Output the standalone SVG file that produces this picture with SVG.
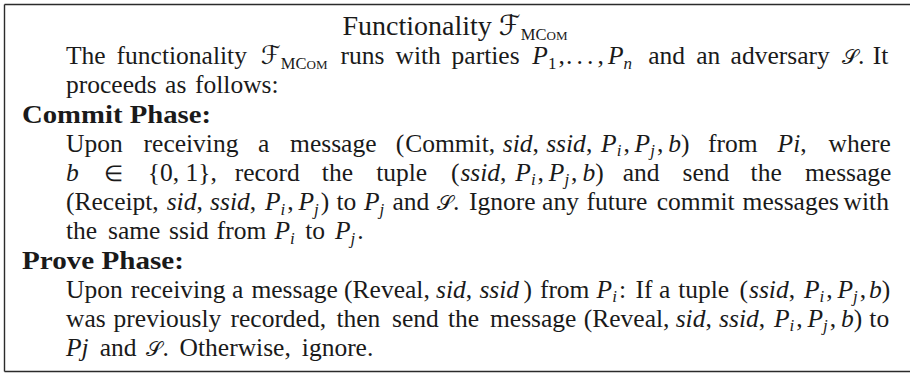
<svg xmlns="http://www.w3.org/2000/svg" width="910" height="373" viewBox="0 0 910 373">
<style>
.t{font-family:"Liberation Serif","Times New Roman",serif;font-size:25.5px;fill:#1a1a1a}
.ttl{font-size:28px}
.i{font-style:italic}
.b{font-weight:bold}
.sb{font-size:17px}
.cal{font-family:"DejaVu Serif","DejaVu Sans",serif;font-style:normal}
.cs{font-size:21px}
.rel{font-size:22px}
.sc{font-size:16.5px}
.scs{font-size:13px}
.frame{fill:none;stroke:#2b2b2b;stroke-width:1.4}
</style>
<rect width="910" height="373" fill="#ffffff"/>
<g id="frame">
<path class="frame" d="M4.5,4.5 H910 M4.5,4.5 V371.5 M4.5,371.5 H910"/>
</g>
<g id="title">
<text class="t ttl" x="455" y="35" text-anchor="middle">Functionality <tspan class="cal">ℱ</tspan><tspan class="sc" dy="5">MC</tspan><tspan class="scs">OM</tspan></text>
</g>
<g id="intro">
<text class="t" y="64"><tspan x="66">The</tspan><tspan x="116.6">functionality</tspan><tspan x="260.8" class="cal">ℱ</tspan><tspan class="sc" dy="5">MC</tspan><tspan class="scs">OM</tspan><tspan x="340.6" dy="-5">runs</tspan><tspan x="395.5">with</tspan><tspan x="451.6">parties</tspan><tspan x="532.3" class="i">P</tspan><tspan class="sb" dy="4.5">1</tspan><tspan dy="-4.5" dx="2">,</tspan><tspan x="566">.</tspan><tspan x="576.5">.</tspan><tspan x="587">.</tspan><tspan x="597.5">,</tspan><tspan x="608" class="i">P</tspan><tspan class="sb i" dy="4.5">n</tspan><tspan x="648.3" dy="-4.5">and</tspan><tspan x="696.2">an</tspan><tspan x="730.6">adversary</tspan><tspan x="841.5" class="cal cs">𝒮</tspan><tspan x="858">.</tspan><tspan x="872.7">It</tspan></text>
<text class="t" y="93.4"><tspan x="66">proceeds</tspan><tspan x="165.1">as</tspan><tspan x="195">follows:</tspan></text>
</g>
<g id="commit">
<text class="t b" x="22" y="122.5" textLength="189" lengthAdjust="spacingAndGlyphs">Commit Phase:</text>
<text class="t" y="151.7"><tspan x="66">Upon</tspan><tspan x="143.6">receiving</tspan><tspan x="257.9">a</tspan><tspan x="290.1">message</tspan><tspan x="395.7">(</tspan><tspan x="405.2">Commit,</tspan><tspan x="502.8" class="i">sid</tspan><tspan>,</tspan><tspan x="546.2" class="i">ssid</tspan><tspan>,</tspan><tspan x="601.1" class="i">P</tspan><tspan class="sb i" dy="4.5">i</tspan><tspan dy="-4.5" dx="2">,</tspan><tspan x="634.6" class="i">P</tspan><tspan class="sb i" dy="4.5">j</tspan><tspan dy="-4.5" dx="2">,</tspan><tspan x="668.2" class="i">b</tspan><tspan>)</tspan><tspan x="708">from</tspan><tspan x="777.6" class="i">Pi</tspan><tspan>,</tspan><tspan x="828.5">where</tspan></text>
<text class="t" y="180.9"><tspan x="66" class="i">b</tspan><tspan x="104" class="rel">∈</tspan><tspan x="147.8">{0, 1},</tspan><tspan x="234.7">record</tspan><tspan x="321.8">the</tspan><tspan x="376.2">tuple</tspan><tspan x="450.9">(</tspan><tspan x="460.4" class="i">ssid</tspan><tspan>,</tspan><tspan x="515.3" class="i">P</tspan><tspan class="sb i" dy="4.5">i</tspan><tspan dy="-4.5" dx="2">,</tspan><tspan x="548.8" class="i">P</tspan><tspan class="sb i" dy="4.5">j</tspan><tspan dy="-4.5" dx="2">,</tspan><tspan x="582.4" class="i">b</tspan><tspan>)</tspan><tspan x="622.7">and</tspan><tspan x="682.5">send</tspan><tspan x="750.6">the</tspan><tspan x="805">message</tspan></text>
<text class="t" y="210.1"><tspan x="66">(Receipt,</tspan><tspan x="166.7" class="i">sid</tspan><tspan>,</tspan><tspan x="210.1" class="i">ssid</tspan><tspan>,</tspan><tspan x="265" class="i">P</tspan><tspan class="sb i" dy="4.5">i</tspan><tspan dy="-4.5" dx="2">,</tspan><tspan x="298.5" class="i">P</tspan><tspan class="sb i" dy="4.5">j</tspan><tspan dy="-4.5" dx="2">)</tspan><tspan x="336.4">to</tspan><tspan x="363.9" class="i">P</tspan><tspan class="sb i" dy="4.5">j</tspan><tspan x="392.4" dy="-4.5">and</tspan><tspan x="436.5" class="cal cs">𝒮</tspan><tspan x="453">.</tspan><tspan x="469.1">Ignore</tspan><tspan x="542.1">any</tspan><tspan x="586.5">future</tspan><tspan x="656.8">commit</tspan><tspan x="742.6">messages</tspan><tspan x="843.6">with</tspan></text>
<text class="t" y="239.3"><tspan x="66">the</tspan><tspan x="108">same</tspan><tspan x="169.1">ssid</tspan><tspan x="216.8">from</tspan><tspan x="274.5" class="i">P</tspan><tspan class="sb i" dy="4.5">i</tspan><tspan x="305.2" dy="-4.5">to</tspan><tspan x="335" class="i">P</tspan><tspan class="sb i" dy="4.5">j</tspan><tspan dy="-4.5" dx="2">.</tspan></text>
</g>
<g id="prove">
<text class="t b" x="22" y="268.5" textLength="162" lengthAdjust="spacingAndGlyphs">Prove Phase:</text>
<text class="t" y="297.6"><tspan x="66">Upon</tspan><tspan x="130.7">receiving</tspan><tspan x="232.1">a</tspan><tspan x="251.4">message</tspan><tspan x="344.1">(Reveal,</tspan><tspan x="436" class="i">sid</tspan><tspan>,</tspan><tspan x="479.4" class="i">ssid</tspan><tspan x="523.4">)</tspan><tspan x="539.9">from</tspan><tspan x="596.6" class="i">P</tspan><tspan class="sb i" dy="4.5">i</tspan><tspan dy="-4.5" dx="2">:</tspan><tspan x="635.5">If</tspan><tspan x="658.9">a</tspan><tspan x="678.2">tuple</tspan><tspan x="739.5">(</tspan><tspan x="749" class="i">ssid</tspan><tspan>,</tspan><tspan x="803.9" class="i">P</tspan><tspan class="sb i" dy="4.5">i</tspan><tspan dy="-4.5" dx="2">,</tspan><tspan x="837.4" class="i">P</tspan><tspan class="sb i" dy="4.5">j</tspan><tspan dy="-4.5" dx="2">,</tspan><tspan x="869" class="i">b</tspan><tspan>)</tspan></text>
<text class="t" y="326.8"><tspan x="66">was</tspan><tspan x="113.6">previously</tspan><tspan x="230.5">recorded,</tspan><tspan x="336.4">then</tspan><tspan x="392.1">send</tspan><tspan x="447.9">the</tspan><tspan x="490">message</tspan><tspan x="583.8">(Reveal,</tspan><tspan x="675.7" class="i">sid</tspan><tspan>,</tspan><tspan x="719.1" class="i">ssid</tspan><tspan>,</tspan><tspan x="774" class="i">P</tspan><tspan class="sb i" dy="4.5">i</tspan><tspan dy="-4.5" dx="2">,</tspan><tspan x="807.5" class="i">P</tspan><tspan class="sb i" dy="4.5">j</tspan><tspan dy="-4.5" dx="2">,</tspan><tspan x="841.1" class="i">b</tspan><tspan>)</tspan><tspan x="869.3">to</tspan></text>
<text class="t" y="356"><tspan x="66" class="i">Pj</tspan><tspan x="99.8">and</tspan><tspan x="146.2" class="cal cs">𝒮</tspan><tspan x="162.5">.</tspan><tspan x="179.6">Otherwise,</tspan><tspan x="301.8">ignore.</tspan></text>
</g>
</svg>
